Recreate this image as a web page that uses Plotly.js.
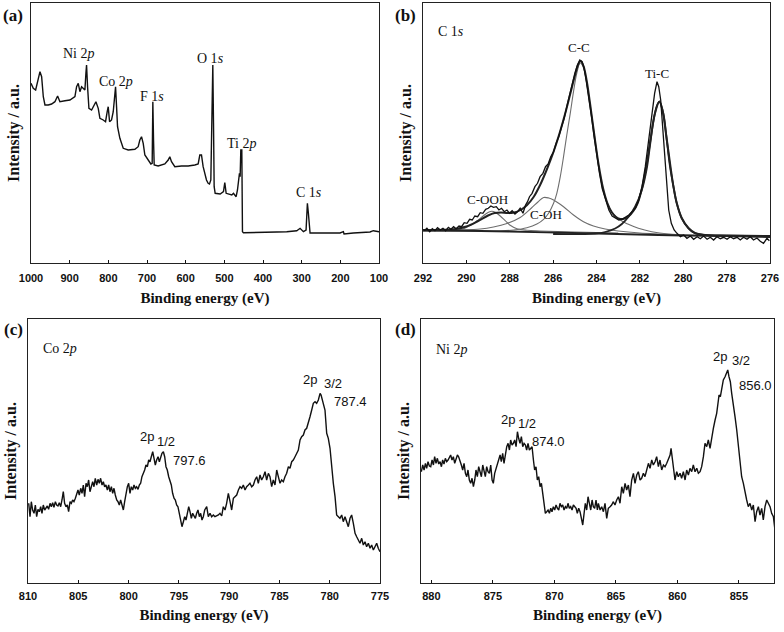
<!DOCTYPE html>
<html><head><meta charset="utf-8">
<script src="https://cdn.plot.ly/plotly-3.0.1.min.js"></script>
<style>html,body{margin:0;padding:0;background:#fff}#chart{width:784px;height:632px}</style>
</head><body><div id="chart"></div>
<script>
// ---------- (a) survey spectrum ----------
const aEnergy = [1000, 994.1, 988.0, 981.1, 976.8, 972.5, 968.2, 963.9, 955.3, 946.7,
 938.1, 931.2, 925.2, 912.2, 899.3, 886.4, 882.1, 877.8, 873.5, 869.2,
 864.9, 860.6, 858.0, 856.3, 853.7, 850.2, 843.3, 836.5, 832.1, 826.1,
 821.8, 813.2, 807.2, 802.9, 800.3, 796.8, 791.7, 787.3, 783.0, 781.3,
 778.7, 776.2, 770.1, 761.5, 748.6, 731.4, 722.8, 718.5, 714.2, 709.8,
 705.5, 696.9, 690.0, 686.6, 684.9, 683.1, 681.4, 671.1, 653.9, 645.2,
 641.0, 636.6, 628.0, 610.8, 593.6, 576.3, 567.7, 563.4, 559.1, 554.8,
 546.2, 541.9, 538.4, 534.9, 532.4, 529.8, 528.0, 526.3, 523.7, 510.8,
 502.2, 498.8, 495.3, 489.3, 480.7, 476.4, 469.5, 466.0, 463.5, 460.9,
 459.1, 457.4, 454.8, 454.0, 453.1, 450.5, 433.3, 407.5, 390.2, 364.4,
 338.6, 312.7, 304.1, 295.5, 288.6, 286.9, 285.2, 282.6, 280.0, 278.3,
 261.0, 235.2, 200.8, 192.1, 190.4, 166.3, 140.5, 123.2, 114.6, 106.0, 100];
const aIntensity = [179.7, 174.7, 173, 183, 191.3, 186.3, 166.3, 158, 158, 159,
 161.3, 167, 161.3, 162.3, 163, 166.3, 176.3, 179.7, 171.3, 176.3,
 174.7, 173, 189.7, 198, 176.3, 154.7, 153, 158, 161.3, 154.7,
 144.7, 143, 141.3, 151.3, 156.3, 141.3, 143, 151.3, 169.7, 176.3,
 156.3, 136.3, 124.7, 114.7, 113, 113.7, 116.3, 123, 126.3, 119.7,
 108, 103, 99, 99.7, 161.3, 123, 98, 97, 99, 103,
 106.3, 101.3, 96.3, 97, 97, 98, 99, 108, 108, 96.3,
 83, 79.7, 79, 83, 156.3, 198, 139.7, 76.3, 69.7, 69,
 71.3, 80.3, 69.7, 69, 68, 69.7, 66.3, 73, 83, 89.7,
 86.3, 113, 113, 83, 31.3, 30.3, 30.3, 30.7, 30.3, 31,
 31.3, 32.3, 34.7, 31.3, 33, 46.3, 59.7, 49.7, 36.3, 30,
 30, 30, 30, 31.3, 29, 30, 30.3, 31, 32.3, 31.3, 31.3];

// ---------- (b) C 1s ----------
const bRawEnergy = [291.94, 291.82, 291.69, 291.57, 291.45, 291.33, 291.20, 291.08, 290.96, 290.83,
 290.71, 290.59, 290.47, 290.34, 290.22, 290.10, 289.97, 289.85, 289.73, 289.61,
 289.48, 289.36, 289.24, 289.11, 288.99, 288.87, 288.75, 288.62, 288.50, 288.38,
 288.25, 288.13, 288.01, 287.89, 287.76, 287.64, 287.52, 287.39, 287.27, 287.18,
 287.09, 286.97, 286.84, 286.72, 286.60, 286.47, 286.35, 286.23, 286.11, 285.98,
 285.86, 285.74, 285.61, 285.49, 285.37, 285.25, 285.12, 285.00, 284.88, 284.77,
 284.66, 284.59, 284.48, 284.36, 284.23, 284.11, 283.99, 283.86, 283.74, 283.59,
 283.43, 283.28, 283.13, 282.97, 282.82, 282.67, 282.51, 282.36, 282.21, 282.05,
 281.90, 281.75, 281.59, 281.44, 281.32, 281.21, 281.13, 281.04, 280.95, 280.86,
 280.76, 280.67, 280.55, 280.42, 280.29, 280.13, 279.98, 279.83, 279.67, 279.52,
 279.36, 279.21, 279.06, 278.90, 278.75, 278.60, 278.45, 278.29, 278.14, 277.98,
 277.83, 277.68, 277.52, 277.37, 277.22, 277.06, 276.91, 276.76, 276.60, 276.45,
 276.30, 276.14, 276.03];
const bRawIntensity = [32.3, 34.7, 31.3, 34.3, 32.3, 35.3, 33, 34.7, 32.3, 35.7,
 33.7, 36.3, 34.3, 37, 36.3, 40.3, 39.7, 43.7, 43, 47,
 46.3, 50.3, 49.7, 53.7, 54.7, 57, 55.7, 56.3, 53, 54.7,
 51.3, 53, 49.7, 52.3, 49, 51.3, 54.7, 49.7, 58, 61.3,
 66.3, 69.7, 76.3, 79.7, 86.3, 89.7, 96.3, 99, 106.3, 111.3,
 119.7, 126.3, 136.3, 144.7, 156.3, 168, 179.7, 189.7, 198, 203,
 201.3, 196.3, 183, 166.3, 146.3, 126.3, 106.3, 89.7, 74.7, 63,
 53, 47, 44.7, 43, 43.7, 45.7, 48, 51.3, 54.7, 63,
 76.3, 96.3, 123, 149.7, 169.7, 181.3, 176.3, 163, 136.3, 106.3,
 76.3, 53, 39.7, 33, 29.7, 26.3, 28, 24.7, 27, 23.7,
 26.3, 24.3, 27, 23.7, 25.7, 23, 26.3, 24.3, 25.7, 23.7,
 26.3, 24.3, 25.7, 23, 25.7, 23.7, 26.3, 23, 25, 21.7,
 19.7, 24.7, 22.3];
const bFitEnergy = [292, 291, 290.5, 290, 289.5, 289, 288.7, 288.4, 288.1, 287.8,
 287.5, 287.2, 286.9, 286.6, 286.3, 286.0, 285.7, 285.4, 285.2, 285.0,
 284.85, 284.74, 284.6, 284.45, 284.3, 284.1, 283.9, 283.7, 283.5, 283.3,
 283.1, 282.9, 282.7, 282.5, 282.3, 282.1, 281.9, 281.7, 281.5, 281.3,
 281.1, 280.95, 280.8, 280.6, 280.45, 280.3, 280.07, 279.76, 279.46, 279.0,
 278, 277, 276];
const bFitIntensity = [33, 33.2, 34, 36.5, 41.5, 47.5, 50, 50.5, 50, 50.5,
 53, 58, 66, 78, 93, 110, 130, 153, 170, 187,
 198, 202, 197, 182, 160, 128, 98, 75, 60, 51,
 46, 44, 44.5, 47, 52, 60, 75, 97, 125, 150,
 161.5, 152, 130, 98, 76, 60, 45, 35, 30, 28,
 27, 26.5, 26];
const bBaseEnergy = [292, 288, 284, 280, 276];
const bBaseIntensity = [33, 31.5, 29.5, 27.5, 26.5];
const bCOOHEnergy = [292, 290.59, 290.13, 289.82, 289.51, 289.21, 288.98, 288.82, 288.67, 288.44,
 288.21, 287.98, 287.67, 287.21, 286.6, 285, 283];
const bCOOHIntensity = [32.8, 33, 34.3, 37.7, 42, 47.3, 50.7, 51.7, 50.7, 47,
 42.3, 37.7, 34.3, 32.7, 32, 31, 30];
const bCOHEnergy = [292, 290.13, 289.36, 288.75, 288.13, 287.52, 287.0, 286.7, 286.44, 286.2,
 285.98, 285.52, 285.06, 284.60, 284.14, 283.6, 283.0, 282, 281, 280];
const bCOHIntensity = [33, 33.2, 34, 36, 39.5, 45.5, 55, 61, 65.5, 65,
 63, 56.3, 48, 41.3, 37, 34, 32, 30, 29, 28];
const bCCEnergy = [292, 290, 288.44, 287.82, 287.21, 286.75, 286.44, 286.21, 285.98, 285.83,
 285.67, 285.52, 285.37, 285.21, 285.06, 284.91, 284.75, 284.59, 284.36, 284.11,
 283.86, 283.6, 283.3, 282.83, 282.53, 282.07, 281.45, 280.69, 279.76, 277.92, 276];
const bCCIntensity = [31.5, 31.8, 32, 33, 35.3, 39, 43.7, 49.7, 59.7, 69.7,
 86.3, 106.3, 128, 149.7, 171.3, 189.7, 200, 195, 168, 130,
 92, 66, 51, 42, 38.7, 34.7, 31.3, 29, 28, 27.7, 27];
const bTiCEnergy = [286, 284.06, 283.60, 283.14, 282.83, 282.53, 282.22, 281.91, 281.68, 281.53,
 281.38, 281.22, 281.10, 280.92, 280.76, 280.61, 280.45, 280.30, 280.07, 279.76,
 279.46, 279.0, 278, 276];
const bTiCIntensity = [29, 29.5, 31, 34.5, 39, 46, 56.3, 73, 94.7, 118,
 141.3, 157, 161.3, 149.7, 123, 96.3, 76.3, 59.7, 44.7, 34.7,
 29.7, 28, 27.5, 27];

// ---------- (c) Co 2p ----------
const cEnergy = [809.93, 809.80, 809.67, 809.54, 809.40, 809.27, 809.14, 809.01, 808.87, 808.74,
 808.61, 808.48, 808.34, 808.21, 808.08, 807.95, 807.81, 807.68, 807.55, 807.42,
 807.28, 807.15, 807.02, 806.89, 806.75, 806.62, 806.49, 806.36, 806.22, 806.09,
 805.96, 805.82, 805.69, 805.56, 805.43, 805.29, 805.16, 805.03, 804.90, 804.76,
 804.63, 804.50, 804.37, 804.23, 804.10, 803.97, 803.84, 803.70, 803.57, 803.44,
 803.31, 803.17, 803.04, 802.91, 802.78, 802.64, 802.51, 802.38, 802.25, 802.11,
 801.98, 801.85, 801.71, 801.58, 801.45, 801.32, 801.18, 801.05, 800.92, 800.79,
 800.65, 800.52, 800.39, 800.26, 800.12, 799.99, 799.86, 799.73, 799.59, 799.46,
 799.33, 799.20, 799.06, 798.93, 798.80, 798.67, 798.53, 798.40, 798.27, 798.13,
 798.00, 797.87, 797.74, 797.60, 797.47, 797.34, 797.21, 797.07, 796.94, 796.81,
 796.68, 796.54, 796.41, 796.28, 796.15, 796.01, 795.88, 795.75, 795.62, 795.48,
 795.35, 795.22, 795.09, 794.95, 794.82, 794.69, 794.55, 794.42, 794.29, 794.16,
 794.02, 793.89, 793.76, 793.63, 793.49, 793.36, 793.23, 793.10, 792.96, 792.83,
 792.70, 792.57, 792.43,
 792.23, 792.07, 791.90, 791.74, 791.57, 791.41, 791.24, 791.07, 790.91, 790.74,
 790.58, 790.41, 790.25, 790.08, 789.91, 789.75, 789.58, 789.42, 789.25, 789.08,
 788.92, 788.75, 788.59, 788.42, 788.26, 788.09, 787.93, 787.76, 787.59, 787.43,
 787.26, 787.10, 786.93, 786.77, 786.60, 786.43, 786.27, 786.10, 785.94, 785.77,
 785.61, 785.44, 785.27, 785.11, 784.94, 784.78, 784.61, 784.45, 784.28, 784.11,
 783.95, 783.78, 783.62, 783.45, 783.29, 783.12, 782.95, 782.79, 782.62, 782.46,
 782.29, 782.12, 781.96, 781.79, 781.63, 781.46, 781.30, 781.13, 780.96, 780.86,
 780.76, 780.63, 780.47, 780.30, 780.14, 779.97, 779.81, 779.64, 779.47, 779.31,
 779.14, 778.98, 778.81, 778.65, 778.48, 778.31, 778.15, 777.98, 777.82, 777.65,
 777.48, 777.32, 777.15, 776.99, 776.82, 776.66, 776.49, 776.33, 776.16, 775.99,
 775.83, 775.66, 775.50, 775.33, 775.17, 775.00];
const cIntensity = [79.7, 66.3, 81.3, 73, 69.7, 78, 66.3, 73.7, 71.3, 76.3,
 69.7, 78, 73, 75.7, 77, 73.7, 79.7, 76.3, 80.3, 75.7,
 81.3, 78, 77, 80.3, 76.3, 83, 91.3, 79.7, 76.3, 78,
 71.3, 81.3, 79.7, 83, 81.3, 84.7, 89.7, 93, 88, 94.7,
 89.7, 98, 86.3, 99.7, 96.3, 103, 91.3, 98, 101.3, 96.3,
 104.7, 98, 103.7, 99.7, 104.7, 98, 101.3, 96.3, 98, 93,
 98, 91.3, 96.3, 89.7, 94.7, 88, 83, 81.3, 78, 83,
 76.3, 73, 81.3, 89.7, 96.3, 99.7, 89.7, 96.3, 93, 98,
 94.7, 96.3, 93.7, 98, 99.7, 106.3, 109.7, 113, 118, 116.3,
 123, 121.3, 126.3, 131.3, 124.7, 118, 123, 126.3, 121.3, 125.7,
 129.7, 131.3, 126.3, 116.3, 113, 106.3, 103, 98, 89.7, 84.7,
 83, 78, 76.3, 69.7, 64.7, 56.3, 61.3, 66.3, 63, 69.7,
 76.3, 71.3, 64.7, 69.7, 66.3, 64.7, 69.7, 73, 66.3, 69.7,
 63, 66.3, 73,
 76.3, 66.3, 69.7, 66.3, 68, 66.3, 67, 68, 69.7, 67,
 76.3, 73, 79.7, 89.7, 81.3, 73, 84.7, 86.3, 88, 93,
 96.3, 94.7, 98, 93, 96.3, 98, 99.7, 96.3, 98, 103,
 106.3, 99.7, 108, 103, 106.3, 111.3, 103, 109.7, 106.3, 96.3,
 103, 98, 113, 106.3, 99.7, 103, 101.3, 106.3, 109.7, 116.3,
 114.7, 121.3, 123, 126.3, 129.7, 133, 143, 146.3, 148, 153,
 154.7, 159.7, 166.3, 173, 179.7, 181.3, 179.7, 183, 189.7, 188,
 184.7, 178, 173, 149.7, 144.7, 134.7, 113, 99.7, 86.3, 68,
 66.3, 64.7, 68, 61.3, 66.3, 59.7, 56.3, 64.7, 68, 59.7,
 49.7, 46.3, 43, 39.7, 44.7, 38, 41.3, 36.3, 39.7, 34.7,
 38, 33, 36.3, 39.7, 34.7, 31.3];

// ---------- (d) Ni 2p ----------
const dEnergy = [880.81, 880.70, 880.59, 880.48, 880.38, 880.27, 880.16, 880.05, 879.94, 879.83,
 879.73, 879.62, 879.51, 879.40, 879.29, 879.18, 879.08, 878.97, 878.86, 878.75,
 878.64, 878.53, 878.43, 878.32, 878.21, 878.10, 877.99, 877.88, 877.78, 877.67,
 877.56, 877.45, 877.34, 877.23, 877.12, 877.02, 876.91, 876.80, 876.69, 876.58,
 876.47, 876.37, 876.26, 876.15, 876.04, 875.93, 875.82, 875.72, 875.61, 875.50,
 875.39, 875.28, 875.17, 875.06, 874.96, 874.85, 874.74, 874.63, 874.52, 874.41,
 874.31, 874.20, 874.09, 873.98, 873.87, 873.76, 873.65, 873.55, 873.44, 873.33,
 873.22, 873.11, 873.00, 872.90, 872.79, 872.68, 872.57, 872.46, 872.35, 872.25,
 872.14, 872.03, 871.92, 871.81, 871.70, 871.60, 871.49, 871.38, 871.27, 871.16,
 871.05, 870.95, 870.84, 870.73, 870.62, 870.51, 870.40, 870.29, 870.19, 870.08,
 869.97, 869.86, 869.75, 869.64, 869.54, 869.43, 869.32, 869.21, 869.10, 868.99,
 868.89, 868.78, 868.67, 868.56, 868.45, 868.34, 868.23, 868.13, 868.02, 867.91,
 867.80, 867.69, 867.58, 867.48, 867.37, 867.26, 867.15, 867.04, 866.93, 866.83,
 866.72, 866.61, 866.50,
 866.42, 866.28, 866.15, 866.01, 865.88, 865.74, 865.61, 865.47, 865.34, 865.20,
 865.07, 864.93, 864.79, 864.66, 864.52, 864.39, 864.25, 864.12, 863.98, 863.85,
 863.71, 863.57, 863.44, 863.30, 863.17, 863.03, 862.90, 862.76, 862.63, 862.49,
 862.35, 862.22, 862.08, 861.95, 861.81, 861.68, 861.54, 861.41, 861.27, 861.13,
 861.00, 860.86, 860.73, 860.59, 860.51, 860.40, 860.29, 860.19,
 860.05, 859.92, 859.78, 859.65, 859.51, 859.37, 859.24, 859.10, 858.97, 858.83,
 858.70, 858.56, 858.42, 858.29, 858.15, 858.02, 857.88, 857.75, 857.61, 857.48,
 857.34, 857.21, 857.07, 856.93, 856.80, 856.66,
 856.61, 856.50, 856.39, 856.26, 856.12, 855.99, 855.90, 855.80, 855.69, 855.58,
 855.44, 855.31, 855.17, 855.04, 854.90, 854.77, 854.63, 854.50, 854.36, 854.23,
 854.09, 853.95, 853.82, 853.68, 853.55, 853.41, 853.28, 853.14, 853.01, 852.87,
 852.73, 852.60, 852.46, 852.33, 852.19, 852.06];
const dIntensity = [111.3, 118, 113, 119.7, 114.7, 121.3, 117, 116.3, 123, 118,
 126.3, 119.7, 124.7, 119, 121.3, 116.3, 123, 119, 124.7, 121.3,
 123, 126.3, 128, 123, 126.3, 119.7, 124.7, 128, 126.3, 123,
 118, 113, 119.7, 109.7, 106.3, 113, 103, 99.7, 104.7, 96.3,
 103, 113, 106.3, 116.3, 111.3, 106.3, 118, 113, 106.3, 116.3,
 111.3, 109.7, 118, 103, 99.7, 109.7, 114.7, 119.7, 124.7, 128,
 121.3, 129.7, 119.7, 128, 136.3, 139.7, 133, 143, 138, 139.7,
 143, 136.3, 151.3, 144.7, 139.7, 146.3, 136.3, 139.7, 138, 133,
 139.7, 133, 134.7, 136.3, 123, 113, 116.3, 103, 106.3, 96.3,
 99.7, 89.7, 79.7, 69.7, 71.3, 73, 69.7, 74.7, 71.3, 76.3,
 73, 78, 74.7, 73, 79.7, 76.3, 78, 73, 76.3, 74.7,
 79.7, 74.7, 76.3, 73, 78, 76.3, 74.7, 69.7, 74.7, 71.3,
 64.7, 58, 69.7, 79.7, 73, 86.3, 79.7, 73, 83, 76.3,
 74.7, 83, 73,
 79.7, 73, 76.3, 71.3, 79.7, 64.7, 74.7, 76.3, 78, 81.3,
 78, 83, 86.3, 79.7, 96.3, 89.7, 99.7, 93, 98, 86.3,
 103, 109.7, 99.7, 108, 111.3, 103, 104.7, 109.7, 106.3, 113,
 119.7, 114.7, 123, 118, 121.3, 126.3, 116.3, 123, 113, 118,
 116.3, 119.7, 124.7, 128, 134.7, 123, 113, 103,
 111.3, 106.3, 109.7, 104.7, 111.3, 103, 113, 108, 114.7, 111.3,
 118, 111.3, 114.7, 109.7, 111.3, 116.3, 126.3, 139.7, 136.3, 143,
 134.7, 146.3, 154.7, 163, 169.7, 183,
 188, 186.3, 194.7, 203, 206.3, 211.3, 213, 206.3, 201.3, 189.7,
 179.7, 166.3, 153, 136.3, 119.7, 106.3, 99.7, 89.7, 83, 76.3,
 79.7, 73, 78, 61.3, 71.3, 76.3, 68, 74.7, 63, 76.3,
 83, 79.7, 76.3, 69.7, 66.3, 53];

const aTicks = [1000, 900, 800, 700, 600, 500, 400, 300, 200, 100];
const bTicks = [292, 290, 288, 286, 284, 282, 280, 278, 276];
const cTicks = [810, 805, 800, 795, 790, 785, 780, 775];
const dTicks = [880, 875, 870, 865, 860, 855];

// ---------- layout helpers ----------
const W = 784, H = 632;
const INK = '#111';
const SERIF = 'Liberation Serif, Times New Roman, serif';
const SANS = 'Liberation Sans, Arial, sans-serif';
const NARROW = 'Liberation Sans Narrow, Arial Narrow, Liberation Sans, sans-serif';
function xdom(l, r) { return [l / W, r / W]; }
function ydom(t, b) { return [1 - b / H, 1 - t / H]; }
function xAxis(dom, range, ticks, anchor, labelGap, titleGap) {
  return {domain: dom, range: range, tickvals: ticks, ticks: 'inside', ticklen: 3, tickwidth: 1,
    tickcolor: INK, showline: true, mirror: true, linecolor: '#222', linewidth: 1.3,
    showgrid: false, zeroline: false, anchor: anchor, automargin: false, ticklabelstandoff: labelGap,
    tickfont: {family: NARROW, size: 11, color: INK, weight: 'bold'},
    title: {text: 'Binding energy (eV)', font: {family: SERIF, size: 15, color: INK, weight: 'bold'}, standoff: titleGap}};
}
function yAxis(dom, range, anchor) {
  return {domain: dom, range: range, showticklabels: false, ticks: '', showline: true, mirror: true,
    linecolor: '#222', linewidth: 1.3, showgrid: false, zeroline: false, anchor: anchor, automargin: false,
    title: {text: 'Intensity / a.u.', font: {family: SERIF, size: 16, color: INK, weight: 'bold'}, standoff: 6}};
}
function ann(text, x, y, size, family, weight) {
  return {text: text, xref: 'paper', yref: 'paper', x: x / W, y: 1 - y / H, xanchor: 'center', yanchor: 'middle',
    showarrow: false, font: {family: family || SERIF, size: size || 14, color: INK, weight: weight || 'normal'}};
}

const line = (x, y, xa, ya, color, width, shape) => ({x: x, y: y, xaxis: xa, yaxis: ya, mode: 'lines',
  line: {color: color, width: width, shape: shape || 'linear'}, showlegend: false, hoverinfo: 'skip'});

const data = [
  line(aEnergy, aIntensity, 'x', 'y', INK, 1.4),
  line(bCOOHEnergy, bCOOHIntensity, 'x2', 'y2', '#6e6e6e', 1.1, 'spline'),
  line(bCOHEnergy, bCOHIntensity, 'x2', 'y2', '#6e6e6e', 1.1, 'spline'),
  line(bCCEnergy, bCCIntensity, 'x2', 'y2', '#6e6e6e', 1.1, 'spline'),
  line(bBaseEnergy, bBaseIntensity, 'x2', 'y2', '#222', 1.8, 'spline'),
  line(bTiCEnergy, bTiCIntensity, 'x2', 'y2', '#222', 1.8, 'spline'),
  line(bFitEnergy, bFitIntensity, 'x2', 'y2', '#222', 2, 'spline'),
  line(bRawEnergy, bRawIntensity, 'x2', 'y2', INK, 1.3),
  line(cEnergy, cIntensity, 'x3', 'y3', INK, 1.4),
  line(dEnergy, dIntensity, 'x4', 'y4', INK, 1.4)
];

const layout = {
  width: W, height: H, margin: {l: 0, r: 0, t: 0, b: 0},
  paper_bgcolor: '#fff', plot_bgcolor: '#fff', showlegend: false,
  font: {family: SERIF, color: INK},
  xaxis: xAxis(xdom(31, 379), [1000, 100], aTicks, 'y', 4, 10),
  yaxis: yAxis(ydom(3, 263), [0, 260], 'x'),
  xaxis2: xAxis(xdom(423, 770), [292, 276], bTicks, 'y2', 4, 10),
  yaxis2: yAxis(ydom(3, 263), [0, 260], 'x2'),
  xaxis3: xAxis(xdom(28, 380), [810, 775], cTicks, 'y3', 2, 9),
  yaxis3: yAxis(ydom(319, 583), [0, 264], 'x3'),
  xaxis4: xAxis(xdom(421, 774), [880.84, 852.14], dTicks, 'y4', 2, 9),
  yaxis4: yAxis(ydom(319, 583), [0, 264], 'x4'),
  annotations: [
    ann('(a)', 13.5, 15, 17, SERIF, 'bold'),
    ann('Ni 2<i>p</i>', 79, 53, 14),
    ann('Co 2<i>p</i>', 116, 81, 14),
    ann('F 1<i>s</i>', 152, 96, 14),
    ann('O 1<i>s</i>', 210, 58, 14),
    ann('Ti 2<i>p</i>', 241, 143, 14),
    ann('C 1<i>s</i>', 309, 192, 14),
    ann('(b)', 405.5, 15, 17, SERIF, 'bold'),
    ann('C 1<i>s</i>', 451, 31, 14),
    ann('C-C', 578.5, 48, 13),
    ann('Ti-C', 657, 74, 13),
    ann('C-OOH', 487, 199, 13),
    ann('C-OH', 545.5, 214, 13),
    ann('(c)', 13.5, 329, 17, SERIF, 'bold'),
    ann('Co 2<i>p</i>', 60, 349, 14),
    ann('2p', 147, 436, 13, SANS),
    ann('1/2', 166, 441, 13, SANS),
    ann('797.6', 189, 460, 13, SANS),
    ann('2p', 310, 379, 13, SANS),
    ann('3/2', 333, 383, 13, SANS),
    ann('787.4', 350, 402, 13, SANS),
    ann('(d)', 405, 329, 17, SERIF, 'bold'),
    ann('Ni 2<i>p</i>', 452, 350, 14),
    ann('2p', 508, 419, 13, SANS),
    ann('1/2', 527, 423, 13, SANS),
    ann('874.0', 548, 442, 13, SANS),
    ann('2p', 720, 356, 13, SANS),
    ann('3/2', 741, 360, 13, SANS),
    ann('856.0', 755, 385, 13, SANS)
  ]
};

Plotly.newPlot('chart', data, layout, {staticPlot: true, displayModeBar: false});
</script>
</body></html>
